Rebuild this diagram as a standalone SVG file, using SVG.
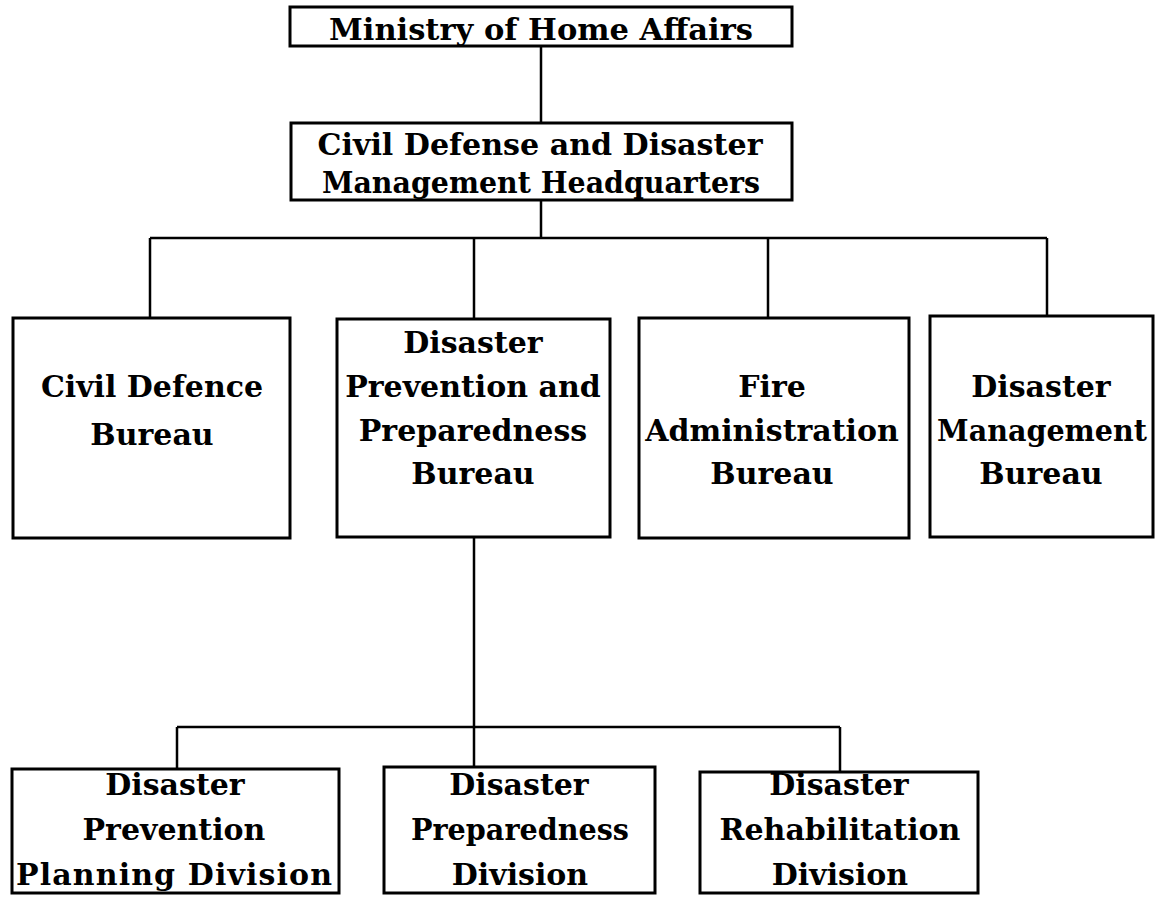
<svg xmlns="http://www.w3.org/2000/svg" width="1161" height="897" viewBox="0 0 1161 897">
<style>
.box{fill:#fff;stroke:#000;stroke-width:3}
.ln{fill:none;stroke:#000;stroke-width:2.5}
text{font-family:"DejaVu Serif","Liberation Serif",serif;font-weight:bold;font-size:30px;fill:#000;text-anchor:middle}
</style>
<rect width="1161" height="897" fill="#fff"/>
<g id="connectors">
<path class="ln" d="M541 46V123M541 200V238M150 238H1047M150 238V318M474 238V319M768 238V318M1047 238V316M474 537V767M177 727H840M177 727V769M840 727V772"/>
</g>
<g id="ministry"><rect class="box" x="290" y="7" width="502" height="39"/><text x="541" y="40" textLength="424" lengthAdjust="spacingAndGlyphs">Ministry of Home Affairs</text></g>
<g id="hq"><rect class="box" x="291" y="123" width="501" height="77"/><text x="540" y="155" textLength="445" lengthAdjust="spacingAndGlyphs">Civil Defense and Disaster</text><text x="541" y="193" textLength="438" lengthAdjust="spacingAndGlyphs">Management Headquarters</text></g>
<g id="civil-defence"><rect class="box" x="13" y="318" width="277" height="220"/><text x="152" y="397">Civil Defence</text><text x="152" y="445">Bureau</text></g>
<g id="dpp"><rect class="box" x="337" y="319" width="273" height="218"/><text x="473" y="353">Disaster</text><text x="473" y="397">Prevention and</text><text x="473" y="441">Preparedness</text><text x="473" y="484">Bureau</text></g>
<g id="fire"><rect class="box" x="639" y="318" width="270" height="220"/><text x="772" y="397">Fire</text><text x="772" y="441">Administration</text><text x="772" y="484">Bureau</text></g>
<g id="dm"><rect class="box" x="930" y="316" width="223" height="221"/><text x="1041" y="397">Disaster</text><text x="1042" y="441" textLength="210" lengthAdjust="spacingAndGlyphs">Management</text><text x="1041" y="484">Bureau</text></g>
<g id="dpp-planning"><rect class="box" x="12" y="769" width="327" height="124"/><text x="175" y="795">Disaster</text><text x="174" y="840">Prevention</text><text x="174" y="885" textLength="316" lengthAdjust="spacing">Planning Division</text></g>
<g id="dp-division"><rect class="box" x="384" y="767" width="271" height="126"/><text x="519" y="795">Disaster</text><text x="520" y="840" textLength="218" lengthAdjust="spacingAndGlyphs">Preparedness</text><text x="520" y="885">Division</text></g>
<g id="dr-division"><rect class="box" x="700" y="772" width="278" height="121"/><text x="839" y="795">Disaster</text><text x="840" y="840">Rehabilitation</text><text x="840" y="885">Division</text></g>
</svg>
